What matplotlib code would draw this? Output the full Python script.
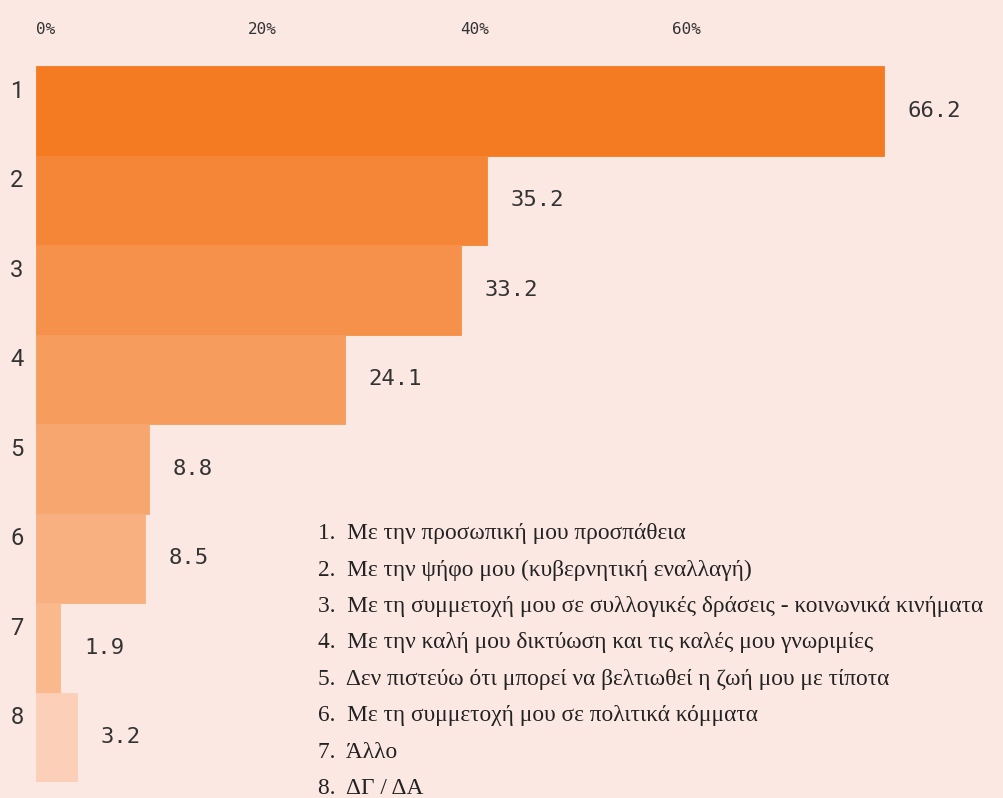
import matplotlib
matplotlib.use("Agg")
import matplotlib.pyplot as plt
import matplotlib.transforms as mtrans

# survey answers, percent of respondents
ranks = ["1", "2", "3", "4", "5", "6", "7", "8"]
values = [66.2, 35.2, 33.2, 24.1, 8.8, 8.5, 1.9, 3.2]
answers = [
    "Με την προσωπική μου προσπάθεια",
    "Με την ψήφο μου (κυβερνητική εναλλαγή)",
    "Με τη συμμετοχή μου σε συλλογικές δράσεις - κοινωνικά κινήματα",
    "Με την καλή μου δικτύωση και τις καλές μου γνωριμίες",
    "Δεν πιστεύω ότι μπορεί να βελτιωθεί η ζωή μου με τίποτα",
    "Με τη συμμετοχή μου σε πολιτικά κόμματα",
    "Άλλο",
    "ΔΓ / ΔΑ",
]
axis_ticks = [0, 20, 40, 60]
axis_max = 80  # top axis runs 0-80% over the longest bar

colors = ["#F57B22", "#F58537", "#F5914A", "#F69C5C",
          "#F8A670", "#F9B080", "#FAB98D", "#FCD0B8"]
bg = "#FCE8E2"
ink = "#333333"

fig = plt.figure(figsize=(10.04, 7.98), dpi=100, facecolor=bg)
ax = fig.add_axes([36 / 1004, 16 / 798, 968 / 1004, 716 / 798])
ax.set_facecolor(bg)

ypos = list(range(len(values)))
ax.barh(ypos, values, height=1.0, color=colors, edgecolor=colors, linewidth=0.6)
ax.set_ylim(len(values) - 0.5, -0.5)
ax.set_xlim(0, 75.6)

for y, v in zip(ypos, values):
    ax.annotate(f"{v:.1f}", (v, y), xytext=(17, 0), textcoords="offset points",
                va="center", ha="left", fontsize=16, color=ink,
                family="DejaVu Sans Mono")

# rank labels sit in the upper part of each row
ax.set_yticks(ypos)
ax.set_yticklabels(ranks, fontsize=17, color=ink, family="Roboto")
ax.tick_params(axis="y", length=0, pad=9)
shift = mtrans.ScaledTranslation(0, 0.22, fig.dpi_scale_trans)
for lab in ax.get_yticklabels():
    lab.set_transform(lab.get_transform() + shift)
ax.set_xticks([])
for s in ax.spines.values():
    s.set_visible(False)

k = axis_max / max(values)
top = ax.secondary_xaxis("top", functions=(lambda x: x * k, lambda x: x / k))
top.set_xticks(axis_ticks)
top.set_xticklabels([f"{t}%" for t in axis_ticks], fontsize=11.5, color=ink,
                    family="DejaVu Sans Mono", ha="left")
top.tick_params(length=0, pad=21)
for s in top.spines.values():
    s.set_visible(False)

legend = "\n".join(f"{i}.  {a}" for i, a in zip(ranks, answers))
fig.text(318 / 1004, 1 - 523 / 798, legend, ha="left", va="top",
         fontsize=16.8, color="#222222", family="Liberation Serif",
         linespacing=1.96)

fig.savefig("out.png", dpi=100, facecolor=bg)
